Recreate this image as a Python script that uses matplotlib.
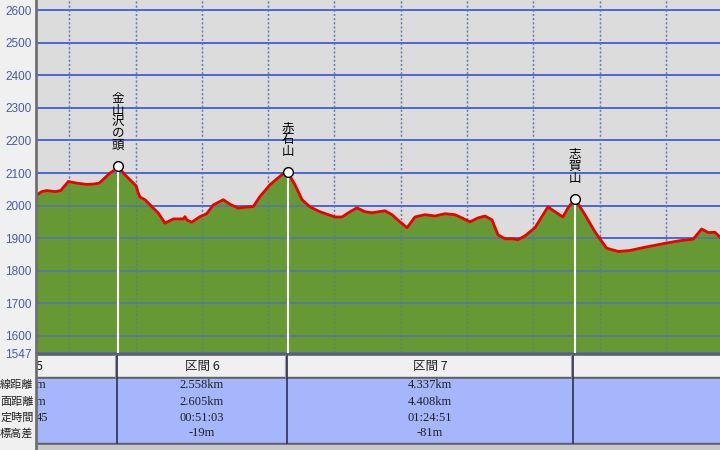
import matplotlib
matplotlib.use("Agg")
import matplotlib.pyplot as plt
from matplotlib.lines import Line2D
from matplotlib.patches import Rectangle

# %% profile data (distance in km, elevation in m)
dist_km = [0.490, 0.584, 0.659, 0.784, 0.870, 0.985, 1.111, 1.262, 1.362, 1.452,
           1.614, 1.674, 1.735, 1.814, 1.916, 2.006, 2.041, 2.066, 2.142, 2.243,
           2.342, 2.443, 2.569, 2.719, 2.745, 2.771, 2.846, 2.971, 3.072, 3.172,
           3.323, 3.424, 3.549, 3.650, 3.775, 3.876, 4.027, 4.148, 4.238, 4.293,
           4.404, 4.510, 4.630, 4.781, 5.008, 5.113, 5.234, 5.339, 5.460, 5.566,
           5.762, 5.867, 5.988, 6.094, 6.214, 6.365, 6.516, 6.667, 6.817, 6.923,
           7.044, 7.164, 7.270, 7.376, 7.466, 7.572, 7.677, 7.768, 7.873, 8.024,
           8.220, 8.326, 8.446, 8.522, 8.627, 8.778, 8.929, 9.105, 9.281, 9.457,
           9.658, 9.834, 10.011, 10.210, 10.411, 10.538, 10.638, 10.739, 10.815]
elev_m = [2030, 2043, 2046, 2043, 2046, 2074, 2069, 2065, 2066, 2069,
          2100, 2108, 2122, 2100, 2079, 2061, 2038, 2026, 2018, 1997,
          1977, 1946, 1959, 1959, 1966, 1956, 1949, 1966, 1975, 2002,
          2018, 2004, 1992, 1995, 1997, 2028, 2064, 2085, 2100, 2103,
          2064, 2018, 1996, 1981, 1965, 1965, 1981, 1993, 1981, 1978,
          1984, 1972, 1950, 1932, 1965, 1972, 1968, 1975, 1972, 1962,
          1950, 1962, 1968, 1956, 1910, 1898, 1898, 1895, 1907, 1932,
          1996, 1981, 1965, 1993, 2021, 1972, 1919, 1869, 1859, 1862,
          1871, 1878, 1885, 1892, 1897, 1928, 1917, 1918, 1903]

# peaks (waypoints)
peak_names = ["金山沢の頭", "赤石山", "志賀山"]
peak_km = [1.735, 4.293, 8.627]
peak_elev = [2122, 2103, 2021]

# y axis
y_ticks = [1547, 1600, 1700, 1800, 1900, 2000, 2100, 2200, 2300, 2400, 2500, 2600]
y_min, y_max = 1547, 2631.6
x_min, x_max = 0.490, 10.815

# section table (left part is scrolled out of view in the original)
row_labels = ["線距離", "面距離", "定時間", "標高差"]
sec5_frag = ["5", "m", "m", "45", ""]
sec6 = ["区間 6", "2.558km", "2.605km", "00:51:03", "-19m"]
sec7 = ["区間 7", "4.337km", "4.408km", "01:24:51", "-81m"]

W, H = 720, 450
cjk = ["Noto Sans CJK JP", "DejaVu Sans"]
fig = plt.figure(figsize=(7.2, 4.5), dpi=100, facecolor="#f0f0f0")

left_px, plot_bottom_px = 35.5, 353
ax = fig.add_axes([left_px / W, 1 - plot_bottom_px / H, 1 - left_px / W, plot_bottom_px / H])
ax.set_facecolor("#dcdcdc")
ax.set_xlim(x_min, x_max)
ax.set_ylim(y_min, y_max)

for y in y_ticks:
    ax.axhline(y, color="#4a68d8", lw=1.4, zorder=1)
for k in range(1, 11):
    ax.axvline(k, color="#7f8fc0", lw=1, ls=(0, (1.5, 1.5)), zorder=1)

ax.fill_between(dist_km, elev_m, y_min, color="#669933", zorder=2)
# grid lines show through the fill
for y in y_ticks:
    ax.axhline(y, color="#4a68d8", lw=1.4, alpha=0.6, zorder=2.5)
for k in range(1, 11):
    ax.axvline(k, color="#5070b0", lw=1, ls=(0, (1.5, 1.5)), alpha=0.5, zorder=2.5)
ax.plot(dist_km, elev_m, color="#ee0000", lw=2, zorder=3)

for name, xk, ye in zip(peak_names, peak_km, peak_elev):
    ax.plot([xk, xk], [y_min, ye], color="white", lw=1.5, zorder=4)
    ax.plot(xk, ye, "o", ms=7, mfc="white", mec="black", mew=1, zorder=5)
    # vertical label: one character per line
    ax.annotate("\n".join(name), (xk, ye), xytext=(0, 10), textcoords="offset points",
                ha="center", va="bottom", fontsize=9, linespacing=0.88,
                family=cjk, zorder=6)

ax.set_yticks(y_ticks)
ax.set_yticklabels([str(v) for v in y_ticks], color="#4a5aa8", fontsize=8.5, family="Liberation Sans")
ax.tick_params(axis="y", length=0, pad=3)
ax.set_xticks([])
for s in ["top", "right", "left"]:
    ax.spines[s].set_visible(False)
ax.spines["bottom"].set_color("#4a68d8")
ax.spines["bottom"].set_linewidth(1.4)

# %% section table below the profile
tab = fig.add_axes([left_px / W, 0, 1 - left_px / W, (H - plot_bottom_px) / H])
tab.set_xlim(left_px, W)
tab.set_ylim(H, plot_bottom_px)
tab.axis("off")
tab.add_patch(Rectangle((left_px, 353), W, 3, color="#606060"))
tab.add_patch(Rectangle((left_px, 356), W, 21, color="#f0f0f0"))
tab.add_patch(Rectangle((left_px, 377), W, 1.5, color="#606060"))
tab.add_patch(Rectangle((left_px, 378.5), W, 64.5, color="#a6b6fc"))
tab.add_patch(Rectangle((left_px, 443), W, 1.5, color="#606070"))
tab.add_patch(Rectangle((left_px, 444.5), W, 6, color="#c8c8c8"))
for xb in [117, 287, 573]:
    tab.plot([xb - 1.5, xb - 1.5], [356, 377], color="#a0a0a0", lw=1.5)
    tab.plot([xb, xb], [356, 443], color="#303050", lw=1.2)

row_y = [366.5, 385, 402, 418, 433]
font_num = ["Liberation Serif", "Noto Sans CJK JP"]
for i, (ry, t5, t6, t7) in enumerate(zip(row_y, sec5_frag, sec6, sec7)):
    fam = cjk if i == 0 else font_num
    tab.text(36, ry, t5, ha="left", va="center", fontsize=9, family=fam, color="#202020")
    tab.text(202, ry, t6, ha="center", va="center", fontsize=9, family=fam, color="#202020")
    tab.text(430, ry, t7, ha="center", va="center", fontsize=9, family=fam, color="#202020")

for ry, lab in zip(row_y[1:], row_labels):
    fig.text(33.5 / W, 1 - ry / H, lab, ha="right", va="center", fontsize=8,
             family=cjk, color="#202020")

fig.add_artist(Line2D([left_px / W, left_px / W], [0, 1], color="#707070", lw=2))

fig.savefig("out.png", dpi=100, facecolor=fig.get_facecolor())
